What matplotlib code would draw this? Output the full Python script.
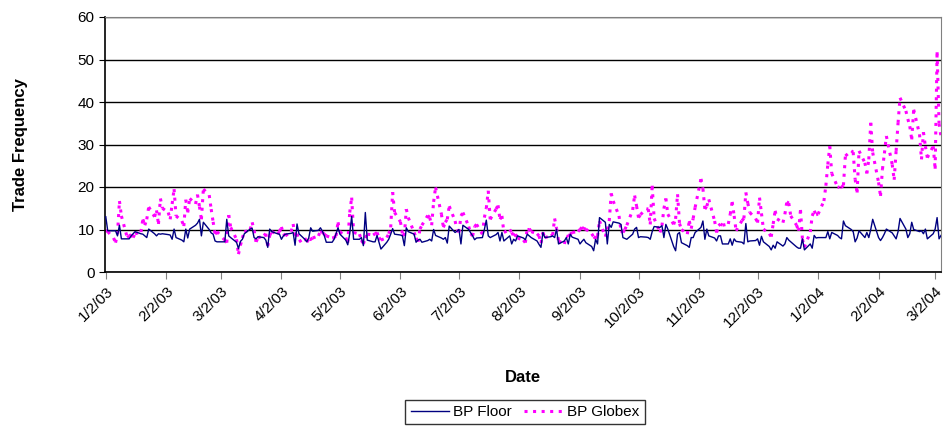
import numpy as np
import pandas as pd
import matplotlib
matplotlib.use("Agg")
import matplotlib.pyplot as plt
import matplotlib.dates as mdates
from matplotlib.collections import LineCollection
from matplotlib.lines import Line2D

# daily trade counts, one value per business day from 1/2/03
bp_floor = [
    13, 9.7, 9.7, 9.7, 8.5, 11, 7.8, 7.8, 7.8, 8.5,
    9, 9.5, 9, 8.9, 8.5, 8.1, 10.1, 9, 8.5, 9,
    8.9, 9, 8.8, 8.7, 7.7, 10.1, 8.1, 7.5, 7.1, 10.1,
    8, 10.1, 11, 11.5, 12.4, 8.5, 11.7, 10, 9.2, 8.9,
    7.3, 7.1, 7.1, 7.1, 12.4, 8.5, 8.1, 7, 5.5, 7.2,
    7.7, 9, 10.1, 10.3, 8.1, 7.8, 8.3, 8.1, 7.5, 5.8,
    10.1, 9.5, 9, 8.9, 7.7, 8.5, 8.9, 9.1, 9.3, 6.3,
    11.3, 9, 7.7, 7.1, 8, 10.4, 9.6, 9.8, 10.4, 9.6,
    8.5, 7, 7, 7.7, 9, 10.4, 8.9, 7.5, 6.4, 9,
    13.1, 7.7, 7.7, 8.1, 6.2, 14, 7.5, 7.1, 7.1, 8.6,
    7, 5.4, 7, 7.7, 8.9, 10.2, 8.9, 8.7, 8.5, 6.2,
    10.4, 9.5, 8.9, 7, 7.5, 7.7, 7, 7.4, 7.7, 7.3,
    10, 8.6, 8, 7.7, 8.1, 6.8, 10.8, 9.3, 9.6, 10,
    6.6, 11, 10, 9.2, 8.5, 7.6, 8, 8.1, 10, 12.2,
    8.5, 8.1, 8.8, 9.3, 7.3, 9.3, 7.3, 8.5, 6.6, 7.7,
    7.3, 8.5, 8, 7.6, 8.9, 8.5, 8.1, 7.3, 6.5, 5.8,
    9.3, 8.1, 8.3, 8.5, 8.1, 10.1, 6.6, 7.3, 8.1, 6.6,
    8.9, 8.2, 7.7, 6.6, 7.2, 7.7, 6.9, 6, 5, 7.7,
    6.6, 12.8, 11.7, 6.6, 11.2, 10.5, 11.8, 11.5, 11.2, 8.1,
    7.9, 7.7, 8.9, 10.1, 10.5, 8.1, 8.3, 8.2, 8.1, 7.7,
    9.5, 10.7, 10.5, 10.9, 8.1, 11.2, 10.1, 6, 5, 8.9,
    9.3, 6.9, 6.2, 5.8, 8.1, 8.1, 9.3, 10.5, 12, 7.7,
    10.1, 8.5, 8, 7.3, 8.5, 8.5, 6.6, 6.6, 7.8, 6.3,
    7.8, 7.2, 7, 6.6, 11.4, 7.1, 7.3, 7.4, 7.8, 6.3,
    8.4, 7.1, 6, 5.2, 6.3, 5.6, 7.1, 6.1, 6.6, 8.1,
    7.5, 7.1, 5.9, 5.6, 5.6, 7.8, 5.2, 6.6, 5.6, 8.6,
    8, 8.1, 8.1, 8.1, 9.5, 7.8, 9.3, 8.6, 8.1, 7.8,
    12, 10.9, 10, 9.5, 7.1, 8, 9.7, 8.1, 9.3, 8.1,
    10, 12.4, 8.1, 7.4, 8.1, 9, 10.1, 9.2, 8.5, 7.8,
    9.5, 12.6, 10.1, 8.1, 9, 11.7, 10, 9.5, 9.7, 9,
    10.1, 7.8, 9, 10.1, 12.8, 7.8, 8.6,
]

bp_globex = [
    9.8, 9.5, 8, 6.9, 8.9, 16.7, 13.2, 8.1, 8.5, 8.8,
    8.1, 9, 9.4, 12.4, 11, 12.4, 15.3, 13, 14.5, 11.3,
    17.3, 15, 14, 12.4, 16, 19.5, 13.2, 12, 10.8, 17,
    14, 17.3, 16, 18.2, 15.4, 12.4, 19.5, 18.1, 14.8, 11.8,
    8.9, 9.5, 8, 7.5, 6.9, 13.4, 10.5, 7.7, 4.2, 6.3,
    8, 9.4, 10, 11.7, 9.8, 7.1, 8, 8.6, 9, 6.1,
    8.6, 9.5, 8.9, 9.5, 10.6, 9, 8.5, 9.5, 11.3, 8.5,
    9, 7.1, 8, 7, 7.7, 7.7, 8, 8.5, 9.7, 9.3,
    8.9, 8.5, 8, 8.1, 8.5, 11.7, 9.5, 8.1, 6.9, 14,
    17.5, 9.3, 8.9, 7.5, 6.6, 8, 8.9, 8.7, 9, 9.3,
    8.1, 7.5, 8.1, 9, 10.5, 18.8, 14, 11.8, 9, 8.5,
    14.8, 12.8, 9.3, 8, 7.1, 10.1, 11, 13.3, 12.8, 11,
    16.5, 19.9, 13.6, 10.5, 11.7, 12.4, 15.5, 12, 10, 9.3,
    13.2, 14, 10.7, 9, 8.5, 10.7, 11.2, 8.9, 12.8, 15,
    19.1, 12.4, 14.8, 15.7, 12.4, 13.2, 9.3, 10, 9.3, 8.5,
    8.9, 8, 7.5, 6.9, 10.2, 10.2, 9.5, 9, 8.5, 6.8,
    9.3, 8.1, 8.5, 8.7, 12.6, 10.2, 7.3, 6.6, 8.5, 8.3,
    8.9, 9.3, 9.5, 10, 10.5, 10.2, 10.1, 9, 8.3, 7.9,
    8.5, 12, 8.3, 10, 12, 18.5, 16.7, 13.2, 9.7, 9.3,
    10, 11, 14.6, 18, 15.5, 12.8, 13.5, 14.9, 14.8, 11.2,
    20.3, 12.6, 9.3, 10.9, 14.9, 17.3, 13.6, 11.2, 12.5, 18.3,
    11.4, 10, 8.9, 12, 10.2, 12.6, 15.2, 21.9, 19.6, 14.8,
    15.5, 17.1, 12, 9.3, 10.9, 11.3, 11, 11.3, 13.6, 16.5,
    13.2, 9.7, 12.1, 12.6, 18.7, 16.2, 14, 12.6, 11.6, 17.5,
    13.8, 10.1, 9, 8.3, 11.3, 14.4, 12.5, 11.6, 13.6, 16.5,
    16.2, 13.2, 11, 9.7, 14.6, 7.7, 5.8, 9.4, 13.2, 14.4,
    13.5, 13.6, 16.7, 20.3, 25.3, 29.6, 23.2, 20, 19.9, 19.9,
    20.4, 27.3, 28.5, 28.2, 21.8, 18.7, 28.5, 25.7, 23.2, 26.5,
    35.1, 28.1, 21.1, 17.9, 24.2, 27.9, 32, 25.3, 21.7, 28.5,
    35.1, 41, 37.9, 36, 34.3, 31.2, 38.2, 32.4, 26.5, 32.9,
    29.6, 26.9, 29.6, 24.3, 51.7, 34.9, 31.8,
]

dates = pd.bdate_range("2003-01-02", periods=len(bp_floor))
xnum = mdates.date2num(dates.to_pydatetime())

plt.rcParams['font.family'] = ['Liberation Sans', 'DejaVu Sans']

fig = plt.figure(figsize=(9.45, 4.3), dpi=100)
ax = fig.add_axes([105 / 945, 1 - 272 / 430, 836 / 945, 255 / 430])

ax.plot(xnum, bp_floor, color='#000080', lw=1.0, zorder=3)

# Excel-style square dots: the dash pattern restarts on every segment
dots = (0, (1, 1.8))
pts = np.column_stack([xnum, bp_globex])
segs = np.stack([pts[:-1], pts[1:]], axis=1)
lc = LineCollection(segs, colors='#FF00FF', linewidths=2.2,
                    linestyles=[dots], capstyle='butt', zorder=2)
ax.add_collection(lc)

ax.set_ylim(0, 60)
ax.set_yticks(range(0, 61, 10))
ax.set_xlim(xnum[0] - 0.4, xnum[-1])
ticks = pd.date_range("2003-01-01", "2004-03-01", freq="MS") + pd.Timedelta(days=1)
ax.set_xticks(mdates.date2num(ticks.to_pydatetime()))
ax.set_xticklabels([f"{d.month}/{d.day}/{d.strftime('%y')}" for d in ticks],
                   rotation=45, ha='right', rotation_mode='anchor', fontsize=11)
ax.tick_params(axis='y', labelsize=11, length=4, direction='out')
ax.tick_params(axis='x', length=5, direction='out', color='#808080')

ax.grid(axis='y', color='black', lw=1.0)
ax.set_axisbelow(True)
for side in ['top', 'right']:
    ax.spines[side].set_color('#808080')
for side in ['left', 'bottom']:
    ax.spines[side].set_color('black')
    ax.spines[side].set_linewidth(1.2)

ax.set_xlabel('Date', fontsize=12, fontweight='bold')
ax.xaxis.set_label_coords(0.5, -0.385)
ax.set_ylabel('Trade Frequency', fontsize=12, fontweight='bold')
ax.yaxis.set_label_coords(-0.092, 0.5)

handles = [Line2D([], [], color='#000080', lw=1.0),
           Line2D([], [], color='#FF00FF', lw=2.2, linestyle=dots,
                  dash_capstyle='butt')]
leg = fig.legend(handles, ['BP Floor', 'BP Globex'], loc='center',
                 bbox_to_anchor=(525 / 945, 1 - 412 / 430), ncol=2,
                 fontsize=11, frameon=True, fancybox=False, edgecolor='black',
                 handlelength=2.5, columnspacing=0.8, handletextpad=0.3,
                 borderpad=0.35)
leg.get_frame().set_linewidth(1.0)

fig.savefig('out.png', dpi=100)
